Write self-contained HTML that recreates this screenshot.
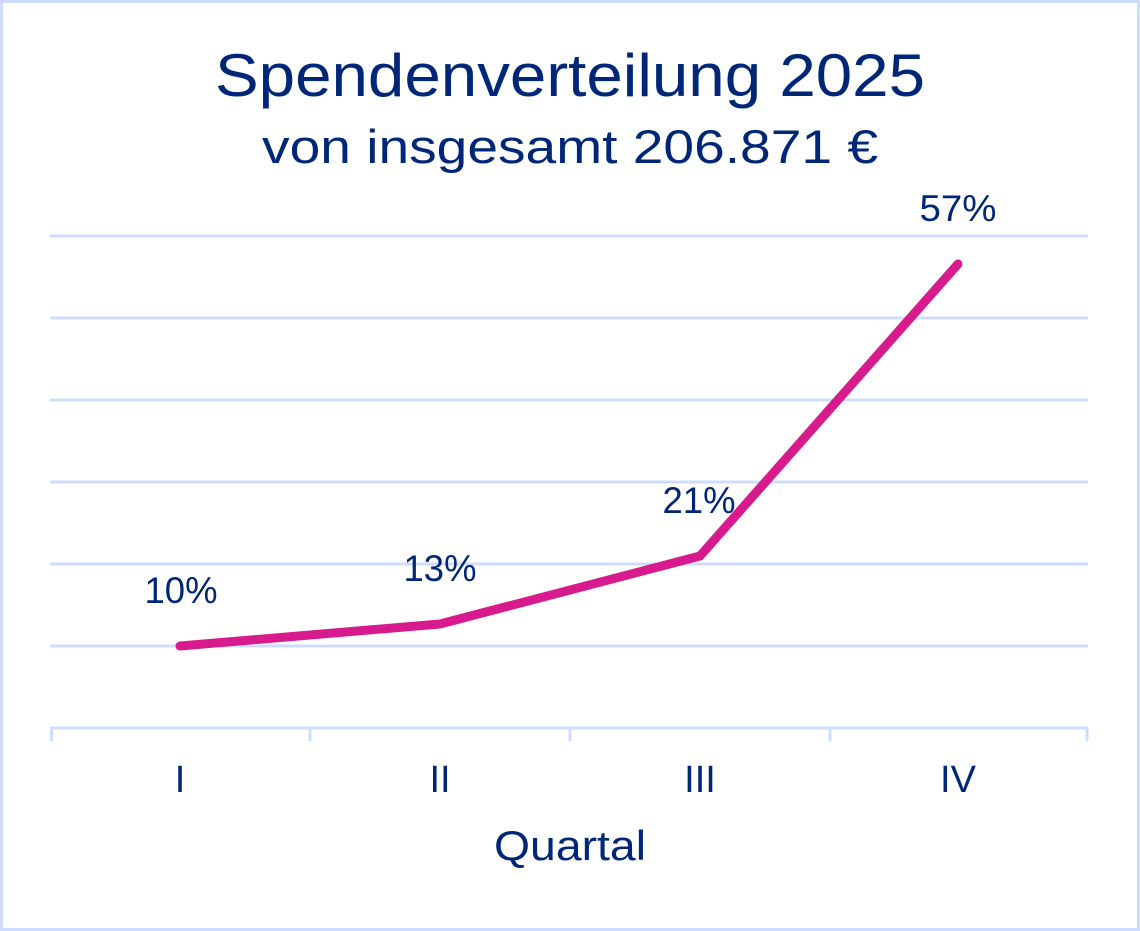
<!DOCTYPE html>
<html><head><meta charset="utf-8"><style>
html,body{margin:0;padding:0;background:#fff}
svg{display:block}
text{font-family:"Liberation Sans",sans-serif;fill:#002677}
</style></head><body>
<svg width="1140" height="931" viewBox="0 0 1140 931">
<rect x="1.5" y="1.5" width="1137" height="928" fill="#fff" stroke="#cddcff" stroke-width="3"/>
<text x="570" y="96" font-size="60" text-anchor="middle" textLength="710" lengthAdjust="spacingAndGlyphs">Spendenverteilung 2025</text>
<text x="570" y="163" font-size="47" text-anchor="middle" textLength="616" lengthAdjust="spacingAndGlyphs">von insgesamt 206.871 €</text>
<g stroke="#cddcff" stroke-width="3">
<line x1="50" y1="236" x2="1088" y2="236"/>
<line x1="50" y1="318" x2="1088" y2="318"/>
<line x1="50" y1="400" x2="1088" y2="400"/>
<line x1="50" y1="482" x2="1088" y2="482"/>
<line x1="50" y1="564" x2="1088" y2="564"/>
<line x1="50" y1="646" x2="1088" y2="646"/>
<line x1="50" y1="728" x2="1088" y2="728"/>
<line x1="51.5" y1="728" x2="51.5" y2="741"/>
<line x1="310" y1="728" x2="310" y2="741"/>
<line x1="570" y1="728" x2="570" y2="741"/>
<line x1="830" y1="728" x2="830" y2="741"/>
<line x1="1087" y1="728" x2="1087" y2="741"/>
</g>
<polyline points="180,646 440,624 700,556 958,264" fill="none" stroke="#d81b8c" stroke-width="9" stroke-linecap="round" stroke-linejoin="round"/>
<g font-size="37" text-anchor="middle">
<text x="181" y="603" textLength="73" lengthAdjust="spacingAndGlyphs">10%</text>
<text x="440" y="581" textLength="73" lengthAdjust="spacingAndGlyphs">13%</text>
<text x="699" y="513" textLength="73" lengthAdjust="spacingAndGlyphs">21%</text>
<text x="958" y="221" textLength="77" lengthAdjust="spacingAndGlyphs">57%</text>
<text x="180" y="792" font-size="38">I</text>
<text x="440" y="792" font-size="38">II</text>
<text x="700" y="792" font-size="38">III</text>
<text x="958" y="792" font-size="38">IV</text>
<text x="570" y="860" font-size="42" textLength="152" lengthAdjust="spacingAndGlyphs">Quartal</text>
</g>
</svg>
</body></html>
